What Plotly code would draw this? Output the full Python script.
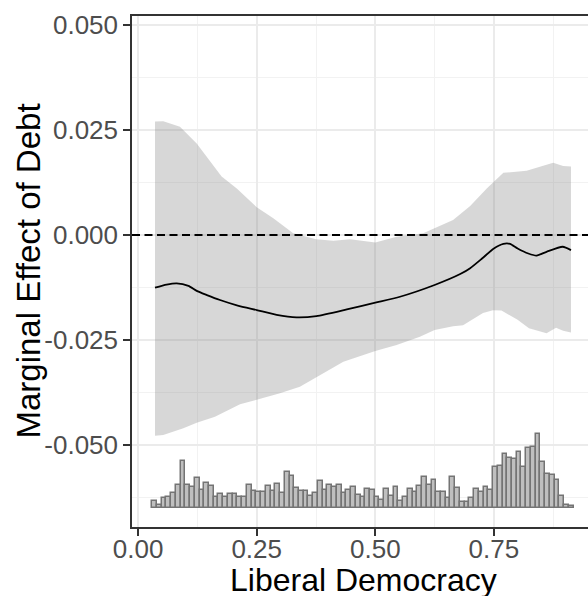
import plotly.graph_objects as go

# ---- data ----
line_x = [0.0356, 0.0600, 0.0813, 0.106, 0.1235, 0.1450, 0.1726, 0.21, 0.25, 0.292, 0.334, 0.376,
          0.44, 0.50, 0.552, 0.625, 0.679, 0.70, 0.725, 0.75, 0.77, 0.784, 0.80, 0.8225,
          0.840, 0.861, 0.895, 0.9125]
line_y = [-0.01254, -0.0118, -0.0115, -0.0121, -0.0133, -0.0143, -0.01548, -0.0168, -0.01786, -0.0190,
          -0.0196, -0.0193, -0.0177, -0.0161, -0.0147, -0.0119, -0.0093, -0.0079, -0.0056, -0.0032,
          -0.0021, -0.0021, -0.0032, -0.0044, -0.0049, -0.0040, -0.0028, -0.0036]

upper_x = [0.0356, 0.053, 0.0883, 0.1235, 0.176, 0.208, 0.25, 0.285, 0.327, 0.375, 0.4117, 0.4467,
           0.50, 0.545, 0.601, 0.625, 0.664, 0.70, 0.735, 0.77, 0.819, 0.875, 0.896, 0.9125]
upper_y = [0.0270, 0.0271, 0.0258, 0.0218, 0.0139, 0.0111, 0.0066, 0.0040, 0.0004, -0.0010, -0.00135,
           -0.0010, -0.0018, -0.0004, 0.0004, 0.0016, 0.0036, 0.0069, 0.0111, 0.0148, 0.0153, 0.0172,
           0.0164, 0.0163]

lower_x = [0.0356, 0.053, 0.0953, 0.1235, 0.162, 0.2148, 0.25, 0.299, 0.341, 0.3765, 0.4326, 0.50,
           0.545, 0.594, 0.625, 0.664, 0.685, 0.727, 0.748, 0.766, 0.80, 0.824, 0.861, 0.881, 0.896,
           0.9125]
lower_y = [-0.0478, -0.0476, -0.0460, -0.0447, -0.0433, -0.0403, -0.0393, -0.0377, -0.0361, -0.0339,
           -0.0302, -0.0276, -0.0262, -0.0242, -0.0226, -0.0217, -0.0215, -0.0186, -0.0179, -0.0180,
           -0.0202, -0.0222, -0.0234, -0.0221, -0.0228, -0.0232]

# histogram of the moderator (relative heights)
hist_heights = [7.3, 3, 9.7, 11.3, 14.7, 23, 47.3, 23, 20.7, 30,
                18, 25, 21.7, 10.7, 14, 11.3, 14, 14, 10.7, 11.3,
                23, 16.7, 16.3, 16.3, 21.7, 17.3, 24, 14.7, 35.7, 32.3,
                19.7, 16.7, 16.7, 12.3, 14.7, 27.3, 18, 23, 20.7, 23,
                14.7, 18, 20.7, 13, 10.7, 19, 18, 10.7, 8, 19,
                12.3, 20.7, 7.3, 10.7, 19, 15.7, 21.7, 31.3, 23, 28.3,
                16.3, 16.3, 9.7, 31.3, 20, 6.3, 5.7, 9.7, 19, 16.3,
                21.3, 18, 41.3, 42.3, 53.7, 50.3, 48.7, 56.3, 41.3, 59.7,
                60.7, 73.7, 46.3, 33.7, 33, 28, 12, 3, 2]
hist_start = 0.0297
hist_binwidth = 0.00998
hist_base = -0.0650
hist_unit = 1 / 4200.0

x_ticks = [0.0, 0.25, 0.5, 0.75]
x_ticktext = ["0.00", "0.25", "0.50", "0.75"]
y_ticks = [0.05, 0.025, 0.0, -0.025, -0.05]
y_ticktext = ["0.050", "0.025", "0.000", "-0.025", "-0.050"]

x_range = [-0.0129, 0.9484]
y_range = [-0.06952, 0.05214]

# ---- figure ----
fig = go.Figure()

hist_x = [hist_start + hist_binwidth * (i + 0.5) for i in range(len(hist_heights))]
fig.add_trace(go.Bar(
    x=hist_x, y=[h * hist_unit for h in hist_heights], base=hist_base,
    width=hist_binwidth, marker=dict(color="#BFBFBF", line=dict(color="#747474", width=1.5)),
    hoverinfo="skip", showlegend=False))

fig.add_trace(go.Scatter(
    x=upper_x + lower_x[::-1], y=upper_y + lower_y[::-1], fill="toself",
    fillcolor="rgba(127,127,127,0.31)", line=dict(width=0), mode="lines",
    hoverinfo="skip", showlegend=False))

fig.add_trace(go.Scatter(
    x=line_x, y=line_y, mode="lines", line=dict(color="black", width=1.8, shape="spline", smoothing=0.6),
    showlegend=False))

fig.add_shape(type="line", xref="paper", x0=0, x1=1, yref="y", y0=0, y1=0,
              line=dict(color="black", width=1.8, dash="8px,4.5px"))

grid_major = "#EBEBEB"
tick_font = dict(family="Liberation Sans, Arial", size=26, color="#4D4D4D")
fig.update_xaxes(
    range=x_range, tickvals=x_ticks, ticktext=x_ticktext,
    showgrid=True, gridcolor=grid_major, gridwidth=1.5,
    minor=dict(tickvals=[0.125, 0.375, 0.625, 0.875], showgrid=True, gridcolor="#F2F2F2", gridwidth=0.9, ticks=""),
    showline=True, mirror=True, linecolor="#333333", linewidth=1.5,
    ticks="outside", ticklen=7, tickwidth=1.5, tickcolor="#333333",
    ticklabelstandoff=-9,
    tickfont=tick_font, zeroline=False, fixedrange=True)
fig.update_yaxes(
    range=y_range, tickvals=y_ticks, ticktext=y_ticktext,
    showgrid=True, gridcolor=grid_major, gridwidth=1.5,
    minor=dict(tickvals=[0.0375, 0.0125, -0.0125, -0.0375, -0.0625], showgrid=True, gridcolor="#F2F2F2", gridwidth=0.9, ticks=""),
    showline=True, mirror=False, linecolor="#333333", linewidth=1.5,
    ticks="outside", ticklen=7, tickwidth=1.5, tickcolor="#333333",
    tickfont=tick_font, zeroline=False, fixedrange=True)

fig.add_annotation(text="Liberal Democracy", xref="paper", yref="paper",
                   x=0.5077, y=0.0, yshift=-53, xanchor="center", yanchor="middle",
                   showarrow=False, font=dict(family="Liberation Sans, Arial", size=32, color="black"))
fig.add_annotation(text="Marginal Effect of Debt", xref="paper", yref="paper",
                   x=0, xshift=-104, y=0.5, xanchor="center", yanchor="middle", textangle=-90,
                   showarrow=False, font=dict(family="Liberation Sans, Arial", size=33, color="black"))

fig.update_layout(
    width=588, height=596, margin=dict(l=132, r=0, t=16, b=69),
    plot_bgcolor="white", paper_bgcolor="white", bargap=0, showlegend=False)

fig.write_html("out.html")
